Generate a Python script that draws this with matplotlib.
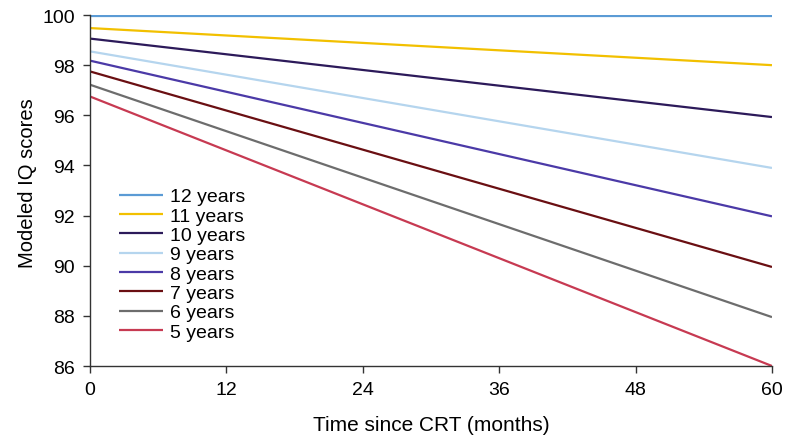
import matplotlib.pyplot as plt
import numpy as np

plt.rcParams['font.family'] = ['Liberation Sans', 'DejaVu Sans']

months = [0, 60]
labels = ["12 years", "11 years", "10 years", "9 years",
          "8 years", "7 years", "6 years", "5 years"]
start_iq = [99.95, 99.48, 99.06, 98.55, 98.18, 97.75, 97.22, 96.75]
end_iq = [99.95, 98.0, 95.93, 93.9, 91.97, 89.95, 87.95, 86.0]
colors = ["#5b9bd5", "#f2c000", "#2c1a5a", "#b5d5ee",
          "#4b3aa7", "#6a0f12", "#6d6d6d", "#c73a52"]

xticks = [0, 12, 24, 36, 48, 60]
yticks = [86, 88, 90, 92, 94, 96, 98, 100]

fig = plt.figure(figsize=(7.93, 4.39), dpi=100)
ax = fig.add_axes([0.1135, 0.164, 0.86, 0.7995])

for lab, s, e, c in zip(labels, start_iq, end_iq, colors):
    ax.plot(months, [s, e], color=c, lw=1.6, label=lab, solid_capstyle='butt')

ax.set_xlim(0, 60)
ax.set_ylim(86, 100)
ax.set_xticks(xticks)
ax.set_yticks(yticks)
ax.spines['top'].set_visible(False)
ax.spines['right'].set_visible(False)
for sp in ['left', 'bottom']:
    ax.spines[sp].set_color('#333333')
    ax.spines[sp].set_linewidth(1.0)
ax.tick_params(direction='out', length=5, width=1.0, color='#333333',
               labelsize=14, pad=6)

ax.set_xlabel("Time since CRT (months)", fontsize=15, labelpad=12)
ax.set_ylabel("Modeled IQ scores", fontsize=14.5)
ax.yaxis.set_label_coords(-0.078, 0.524)

ax.legend(loc='upper left', bbox_to_anchor=(0.042, 0.508), frameon=False,
          fontsize=14, handlelength=2.3, handletextpad=0.35,
          labelspacing=0.09, borderaxespad=0, borderpad=0)

fig.savefig("out.png", dpi=100)
